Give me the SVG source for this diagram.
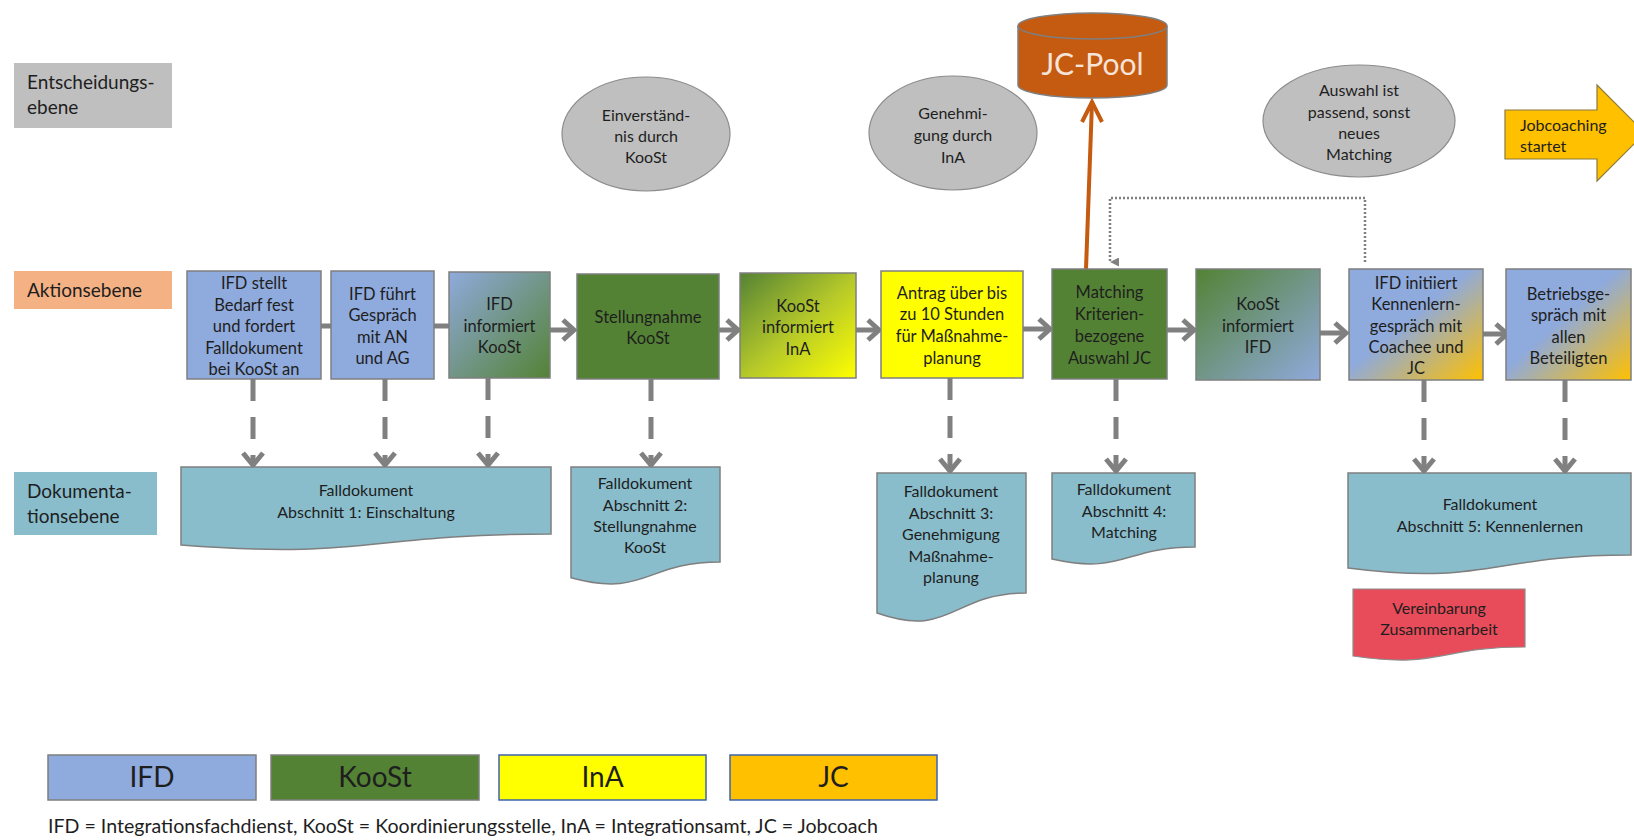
<svg xmlns="http://www.w3.org/2000/svg" width="1634" height="840" viewBox="0 0 1634 840">
<style>
text{font-family:Lato,"Open Sans","Liberation Sans",sans-serif;fill:#1e1e1e}
.bx{stroke:#7f7f7f;stroke-width:1.5}
.t{font-size:16.5px;text-anchor:middle}
.d{font-size:16px;text-anchor:middle}
.lab{font-size:19px}
.doc{fill:#89bdcc;stroke:#7f7f7f;stroke-width:1.5}
.ell{fill:#bfbfbf;stroke:#8c8c8c;stroke-width:1.2}
.flow{stroke:#808080;stroke-width:5;fill:none}
.dash{stroke:#808080;stroke-width:5;fill:none;stroke-dasharray:22 16}
.head{stroke:#808080;stroke-width:5;fill:none;stroke-linejoin:miter}
.leg{font-size:28px;text-anchor:middle}
</style>
<defs>
<linearGradient id="gBG" x1="0" y1="0" x2="1" y2="1"><stop offset="0" stop-color="#8faadc"/><stop offset="1" stop-color="#548235"/></linearGradient>
<linearGradient id="gGY" x1="0" y1="0" x2="1" y2="1"><stop offset="0" stop-color="#548235"/><stop offset="0.5" stop-color="#b3c72a"/><stop offset="1" stop-color="#ffff00"/></linearGradient>
<linearGradient id="gGB" x1="0" y1="0" x2="1" y2="1"><stop offset="0" stop-color="#548235"/><stop offset="1" stop-color="#8faadc"/></linearGradient>
<linearGradient id="gBO" x1="0" y1="0" x2="1" y2="1"><stop offset="0" stop-color="#8faadc"/><stop offset="0.45" stop-color="#8faadc"/><stop offset="1" stop-color="#ffc000"/></linearGradient>
<marker id="dotHead" viewBox="0 0 10 10" refX="5" refY="10" markerWidth="9" markerHeight="9" markerUnits="userSpaceOnUse" orient="auto-start-reverse">
<path d="M0,0 L10,0 L5,10 Z" fill="#808080"/>
</marker>
</defs>

<g id="level-labels">
<g id="lbl-entscheidung"><rect x="14" y="63" width="158" height="65" fill="#bfbfbf"/><text class="lab" x="27" y="89">Entscheidungs-</text><text class="lab" x="27" y="114">ebene</text></g>
<g id="lbl-aktion"><rect x="14" y="271" width="158" height="38" fill="#f4b183"/><text class="lab" x="27" y="297">Aktionsebene</text></g>
<g id="lbl-doku"><rect x="14" y="472" width="143" height="63" fill="#89bdcc"/><text class="lab" x="27" y="498">Dokumenta-</text><text class="lab" x="27" y="523">tionsebene</text></g>
</g>

<g id="connectors">
<line class="flow" x1="321" y1="326" x2="331" y2="326"/>
<line class="flow" x1="434" y1="326" x2="449" y2="326"/>
<line class="flow" x1="550" y1="330" x2="574" y2="330"/><path class="head" d="M563,320 L574,330 L563,340"/>
<line class="flow" x1="719" y1="330" x2="738" y2="330"/><path class="head" d="M727,320 L738,330 L727,340"/>
<line class="flow" x1="856" y1="330" x2="879" y2="330"/><path class="head" d="M868,320 L879,330 L868,340"/>
<line class="flow" x1="1023" y1="329" x2="1050" y2="329"/><path class="head" d="M1039,319 L1050,329 L1039,339"/>
<line class="flow" x1="1167" y1="330" x2="1194" y2="330"/><path class="head" d="M1183,320 L1194,330 L1183,340"/>
<line class="flow" x1="1320" y1="333" x2="1346" y2="333"/><path class="head" d="M1335,323 L1346,333 L1335,343"/>
<line class="flow" x1="1483" y1="334" x2="1507" y2="334"/><path class="head" d="M1496,324 L1507,334 L1496,344"/>

<line class="dash" x1="253" y1="379" x2="253" y2="465"/><path class="head" d="M243,453 L253,465 L263,453"/>
<line class="dash" x1="385" y1="379" x2="385" y2="465"/><path class="head" d="M375,453 L385,465 L395,453"/>
<line class="dash" x1="488" y1="378" x2="488" y2="465"/><path class="head" d="M478,453 L488,465 L498,453"/>
<line class="dash" x1="651" y1="379" x2="651" y2="465"/><path class="head" d="M641,453 L651,465 L661,453"/>
<line class="dash" x1="950" y1="378" x2="950" y2="471"/><path class="head" d="M940,459 L950,471 L960,459"/>
<line class="dash" x1="1116" y1="379" x2="1116" y2="471"/><path class="head" d="M1106,459 L1116,471 L1126,459"/>
<line class="dash" x1="1424" y1="380" x2="1424" y2="471"/><path class="head" d="M1414,459 L1424,471 L1434,459"/>
<line class="dash" x1="1565" y1="380" x2="1565" y2="471"/><path class="head" d="M1555,459 L1565,471 L1575,459"/>

<line x1="1086" y1="269" x2="1092" y2="102" stroke="#c55a11" stroke-width="4"/>
<path d="M1082,122 L1092,102 L1102,122" stroke="#c55a11" stroke-width="4" fill="none"/>

<path d="M1365,262 V198 H1110 V262" stroke="#808080" stroke-width="2.5" stroke-dasharray="2 2" fill="none" marker-end="url(#dotHead)"/>
</g>

<g id="n-ifd-bedarf"><rect class="bx" x="187" y="271" width="134" height="108" fill="#8faadc"/>
<text class="t" x="254" y="289">IFD stellt</text><text class="t" x="254" y="310.5">Bedarf fest</text><text class="t" x="254" y="332">und fordert</text><text class="t" x="254" y="353.5">Falldokument</text><text class="t" x="254" y="375">bei KooSt an</text></g>
<g id="n-ifd-gespraech"><rect class="bx" x="331" y="271" width="103" height="108" fill="#8faadc"/>
<text class="t" x="382.5" y="300">IFD führt</text><text class="t" x="382.5" y="321">Gespräch</text><text class="t" x="382.5" y="343">mit AN</text><text class="t" x="382.5" y="364">und AG</text></g>
<g id="n-ifd-informiert"><rect class="bx" x="449" y="272" width="101" height="106" fill="url(#gBG)"/>
<text class="t" x="499.5" y="310">IFD</text><text class="t" x="499.5" y="332">informiert</text><text class="t" x="499.5" y="353">KooSt</text></g>
<g id="n-stellungnahme"><rect class="bx" x="577" y="274" width="142" height="105" fill="#548235"/>
<text class="t" x="648" y="323">Stellungnahme</text><text class="t" x="648" y="344">KooSt</text></g>
<g id="n-koost-ina"><rect class="bx" x="740" y="273" width="116" height="105" fill="url(#gGY)"/>
<text class="t" x="798" y="312">KooSt</text><text class="t" x="798" y="333">informiert</text><text class="t" x="798" y="355">InA</text></g>
<g id="n-antrag"><rect class="bx" x="881" y="271" width="142" height="107" fill="#ffff00"/>
<text class="t" x="952" y="299">Antrag über bis</text><text class="t" x="952" y="320">zu 10 Stunden</text><text class="t" x="952" y="342">für Maßnahme-</text><text class="t" x="952" y="364">planung</text></g>
<g id="n-matching"><rect class="bx" x="1052" y="269" width="115" height="110" fill="#548235"/>
<text class="t" x="1109.5" y="298">Matching</text><text class="t" x="1109.5" y="320">Kriterien-</text><text class="t" x="1109.5" y="342">bezogene</text><text class="t" x="1109.5" y="364">Auswahl JC</text></g>
<g id="n-koost-ifd"><rect class="bx" x="1196" y="269" width="124" height="111" fill="url(#gGB)"/>
<text class="t" x="1258" y="310">KooSt</text><text class="t" x="1258" y="332">informiert</text><text class="t" x="1258" y="353">IFD</text></g>
<g id="n-kennenlern"><rect class="bx" x="1349" y="269" width="134" height="111" fill="url(#gBO)"/>
<text class="t" x="1416" y="289">IFD initiiert</text><text class="t" x="1416" y="310">Kennenlern-</text><text class="t" x="1416" y="332">gespräch mit</text><text class="t" x="1416" y="353">Coachee und</text><text class="t" x="1416" y="374">JC</text></g>
<g id="n-betriebsgespraech"><rect class="bx" x="1506" y="269" width="125" height="111" fill="url(#gBO)"/>
<text class="t" x="1568.5" y="300">Betriebsge-</text><text class="t" x="1568.5" y="321">spräch mit</text><text class="t" x="1568.5" y="343">allen</text><text class="t" x="1568.5" y="364">Beteiligten</text></g>

<g id="n-einverstaendnis"><ellipse class="ell" cx="646" cy="134" rx="84" ry="57"/>
<text class="d" x="646" y="121">Einverständ-</text><text class="d" x="646" y="142">nis durch</text><text class="d" x="646" y="163">KooSt</text></g>
<g id="n-genehmigung"><ellipse class="ell" cx="953" cy="133" rx="84" ry="57"/>
<text class="d" x="953" y="119">Genehmi-</text><text class="d" x="953" y="141">gung durch</text><text class="d" x="953" y="163">InA</text></g>
<g id="n-auswahl"><ellipse class="ell" cx="1359" cy="121" rx="96" ry="56"/>
<text class="d" x="1359" y="96">Auswahl ist</text><text class="d" x="1359" y="118">passend, sonst</text><text class="d" x="1359" y="139">neues</text><text class="d" x="1359" y="160">Matching</text></g>

<g id="n-jcpool">
<path d="M1018,26 V85 A74.5,13 0 0 0 1167,85 V26" fill="#c55a11" stroke="#7f7f7f" stroke-width="1.5"/>
<ellipse cx="1092.5" cy="26" rx="74.5" ry="13" fill="#c55a11" stroke="#7f7f7f" stroke-width="1.5"/>
<text x="1092.5" y="75" font-size="30" text-anchor="middle" style="fill:#f6e4d8">JC-Pool</text>
</g>

<g id="n-jobcoaching">
<polygon points="1505,110 1597,110 1597,85 1645,133 1597,181 1597,159 1505,159" fill="#ffc000" stroke="#8c7a3c" stroke-width="1.2"/>
<text x="1520" y="131" font-size="16">Jobcoaching</text><text x="1520" y="152" font-size="16">startet</text>
</g>

<g id="n-doc1"><path class="doc" d="M181,467 H551 V534 C366,534 366,559.5 181,545 Z"/>
<text class="d" x="366" y="496">Falldokument</text><text class="d" x="366" y="518">Abschnitt 1: Einschaltung</text></g>
<g id="n-doc2"><path class="doc" d="M571,467 H720 V562 C645.5,562 645.5,598 571,577.7 Z"/>
<text class="d" x="645" y="489">Falldokument</text><text class="d" x="645" y="511">Abschnitt 2:</text><text class="d" x="645" y="532">Stellungnahme</text><text class="d" x="645" y="553">KooSt</text></g>
<g id="n-doc3"><path class="doc" d="M877,473 H1026 V593 C951.5,593 951.5,639 877,613 Z"/>
<text class="d" x="951" y="497">Falldokument</text><text class="d" x="951" y="519">Abschnitt 3:</text><text class="d" x="951" y="540">Genehmigung</text><text class="d" x="951" y="562">Maßnahme-</text><text class="d" x="951" y="583">planung</text></g>
<g id="n-doc4"><path class="doc" d="M1052,473 H1195 V547 C1123.5,547 1123.5,575 1052,559 Z"/>
<text class="d" x="1124" y="495">Falldokument</text><text class="d" x="1124" y="517">Abschnitt 4:</text><text class="d" x="1124" y="538">Matching</text></g>
<g id="n-doc5"><path class="doc" d="M1348,473 H1631 V555 C1489.5,555 1489.5,586 1348,568 Z"/>
<text class="d" x="1490" y="510">Falldokument</text><text class="d" x="1490" y="532">Abschnitt 5: Kennenlernen</text></g>
<g id="n-vereinbarung"><path d="M1353,589 H1525 V647 C1439,647 1439,669 1353,656 Z" fill="#e84c5a" stroke="#8c8c8c" stroke-width="1.2"/>
<text class="d" x="1439" y="614">Vereinbarung</text><text class="d" x="1439" y="635">Zusammenarbeit</text></g>

<g id="legend">
<g id="leg-ifd"><rect class="bx" x="48" y="755" width="208" height="45" fill="#8faadc"/><text class="leg" x="152" y="787">IFD</text></g>
<g id="leg-koost"><rect class="bx" x="271" y="755" width="208" height="45" fill="#548235"/><text class="leg" x="375" y="787">KooSt</text></g>
<g id="leg-ina"><rect x="499" y="755" width="207" height="45" fill="#ffff00" stroke="#3b64ad" stroke-width="1.5"/><text class="leg" x="602.5" y="787">InA</text></g>
<g id="leg-jc"><rect x="730" y="755" width="207" height="45" fill="#ffc000" stroke="#3b64ad" stroke-width="1.5"/><text class="leg" x="833.5" y="787">JC</text></g>
<text x="48" y="833" font-size="19.6">IFD = Integrationsfachdienst, KooSt = Koordinierungsstelle, InA = Integrationsamt, JC = Jobcoach</text>
</g>
</svg>
